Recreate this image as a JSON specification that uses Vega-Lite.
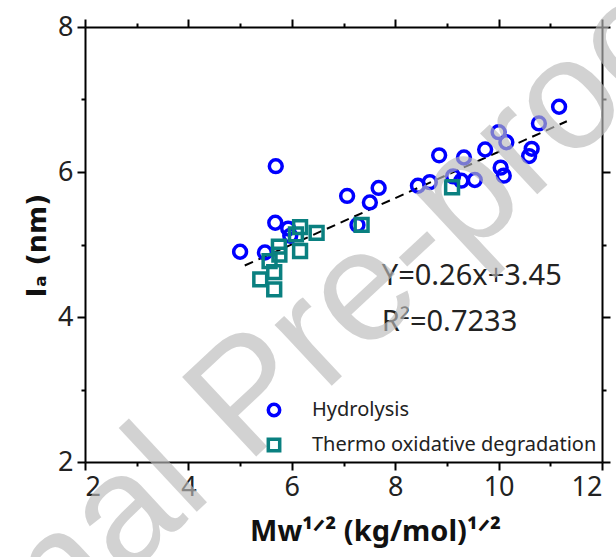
{
  "$schema": "https://vega.github.io/schema/vega-lite/v6.json",
  "autosize": {"type": "none"},
  "padding": {"left": 85, "top": 27, "right": 14, "bottom": 95},
  "width": 517,
  "height": 435,
  "background": "white",
  "config": {
    "view": {"stroke": null},
    "font": "Noto Sans",
    "axis": {
      "grid": false,
      "domainColor": "black",
      "domainWidth": 2,
      "tickColor": "black",
      "tickWidth": 2,
      "labelFont": "Noto Sans",
      "labelFontSize": 27,
      "labelColor": "#222222",
      "titleFont": "Noto Sans",
      "titleFontSize": 29,
      "titleFontWeight": "bold",
      "titleColor": "#111111"
    }
  },
  "datasets": {
    "pts": [
      {"x": 5.0, "y": 4.9, "series": "Hydrolysis"},
      {"x": 5.48, "y": 4.89, "series": "Hydrolysis"},
      {"x": 5.69, "y": 6.08, "series": "Hydrolysis"},
      {"x": 5.68, "y": 5.3, "series": "Hydrolysis"},
      {"x": 5.93, "y": 5.22, "series": "Hydrolysis"},
      {"x": 5.97, "y": 5.12, "series": "Hydrolysis"},
      {"x": 7.07, "y": 5.67, "series": "Hydrolysis"},
      {"x": 7.27, "y": 5.27, "series": "Hydrolysis"},
      {"x": 7.51, "y": 5.58, "series": "Hydrolysis"},
      {"x": 7.68, "y": 5.78, "series": "Hydrolysis"},
      {"x": 8.44, "y": 5.81, "series": "Hydrolysis"},
      {"x": 8.67, "y": 5.86, "series": "Hydrolysis"},
      {"x": 8.85, "y": 6.23, "series": "Hydrolysis"},
      {"x": 9.12, "y": 5.94, "series": "Hydrolysis"},
      {"x": 9.28, "y": 5.88, "series": "Hydrolysis"},
      {"x": 9.33, "y": 6.2, "series": "Hydrolysis"},
      {"x": 9.54, "y": 5.89, "series": "Hydrolysis"},
      {"x": 9.74, "y": 6.31, "series": "Hydrolysis"},
      {"x": 10.0, "y": 6.55, "series": "Hydrolysis"},
      {"x": 10.15, "y": 6.41, "series": "Hydrolysis"},
      {"x": 10.04, "y": 6.06, "series": "Hydrolysis"},
      {"x": 10.1, "y": 5.95, "series": "Hydrolysis"},
      {"x": 10.59, "y": 6.22, "series": "Hydrolysis"},
      {"x": 10.64, "y": 6.32, "series": "Hydrolysis"},
      {"x": 10.78, "y": 6.67, "series": "Hydrolysis"},
      {"x": 11.17, "y": 6.9, "series": "Hydrolysis"},
      {"x": 5.39, "y": 4.52, "series": "Thermo oxidative degradation"},
      {"x": 5.66, "y": 4.38, "series": "Thermo oxidative degradation"},
      {"x": 5.66, "y": 4.62, "series": "Thermo oxidative degradation"},
      {"x": 5.57, "y": 4.77, "series": "Thermo oxidative degradation"},
      {"x": 5.75, "y": 4.97, "series": "Thermo oxidative degradation"},
      {"x": 5.76, "y": 4.86, "series": "Thermo oxidative degradation"},
      {"x": 6.08, "y": 5.14, "series": "Thermo oxidative degradation"},
      {"x": 6.16, "y": 5.24, "series": "Thermo oxidative degradation"},
      {"x": 6.16, "y": 4.91, "series": "Thermo oxidative degradation"},
      {"x": 6.48, "y": 5.16, "series": "Thermo oxidative degradation"},
      {"x": 7.35, "y": 5.27, "series": "Thermo oxidative degradation"},
      {"x": 9.1, "y": 5.79, "series": "Thermo oxidative degradation"}
    ],
    "fit": [
      {"x": 5.09, "y": 4.71},
      {"x": 11.32, "y": 6.7}
    ],
    "notes": [
      {"x": 7.74, "y": 4.44, "label": "Y=0.26x+3.45"},
      {"x": 7.74, "y": 3.81, "label": "R²=0.7233"}
    ],
    "mark": [
      {"x": 5.81, "y": 2.41, "label": "Journal Pre-proof"}
    ]
  },
  "resolve": {"axis": {"x": "independent", "y": "independent"}},
  "layer": [
    {
      "data": {"name": "fit"},
      "mark": {"type": "line", "color": "black", "strokeWidth": 2, "strokeDash": [9, 6]},
      "encoding": {
        "x": {
          "field": "x", "type": "quantitative",
          "scale": {"domain": [2, 12], "nice": false, "zero": false},
          "axis": {
            "orient": "bottom",
            "values": [2, 3, 4, 5, 6, 7, 8, 9, 10, 11, 12],
            "labelExpr": "datum.value % 2 === 0 ? datum.label : ''",
            "tickSize": {"condition": {"test": "datum.value % 2 !== 0", "value": 4}, "value": 8},
            "labelPadding": 4,
            "title": "Mw¹ᐟ² (kg/mol)¹ᐟ²",
            "titleX": 290,
            "titleY": 78,
            "titleBaseline": "alphabetic",
            "titleAnchor": "middle",
            "titleAlign": "center"
          }
        },
        "y": {
          "field": "y", "type": "quantitative",
          "scale": {"domain": [2, 8], "nice": false, "zero": false},
          "axis": {
            "orient": "left",
            "values": [2, 3, 4, 5, 6, 7, 8],
            "labelExpr": "datum.value % 2 === 0 ? datum.label : ''",
            "tickSize": {"condition": {"test": "datum.value % 2 !== 0", "value": 4}, "value": 8},
            "labelPadding": 4,
            "title": "Iₐ (nm)",
            "titleFont": "DejaVu Sans",
            "titleFontSize": 27,
            "titleAngle": -90,
            "titleX": -40,
            "titleY": 218,
            "titleAlign": "center",
            "titleBaseline": "alphabetic"
          }
        }
      }
    },
    {
      "data": {"name": "pts"},
      "mark": {"type": "point", "filled": false, "strokeWidth": 3.5, "size": 165, "opacity": 1},
      "encoding": {
        "x": {"field": "x", "type": "quantitative", "axis": null},
        "y": {"field": "y", "type": "quantitative", "axis": null},
        "color": {
          "field": "series", "type": "nominal",
          "scale": {"domain": ["Hydrolysis", "Thermo oxidative degradation"], "range": ["#0000ff", "#0a8080"]},
          "legend": {
            "orient": "none",
            "legendX": 179,
            "legendY": 373,
            "title": null,
            "padding": 0,
            "labelFont": "Noto Sans",
            "labelFontSize": 20,
            "labelColor": "#222222",
            "labelOffset": 28,
            "labelLimit": 400,
            "symbolSize": 130,
            "symbolStrokeWidth": 3.5,
            "rowPadding": 9,
            "symbolFillColor": "white"
          }
        },
        "shape": {
          "field": "series", "type": "nominal",
          "scale": {"domain": ["Hydrolysis", "Thermo oxidative degradation"], "range": ["circle", "square"]},
          "legend": {
            "orient": "none",
            "legendX": 179,
            "legendY": 373,
            "title": null
          }
        }
      }
    },
    {
      "data": {"name": "notes"},
      "mark": {"type": "text", "align": "left", "baseline": "alphabetic", "fontSize": 29, "font": "Noto Sans", "color": "#222222"},
      "encoding": {
        "x": {
          "field": "x", "type": "quantitative",
          "axis": {
            "orient": "top",
            "values": [2, 3, 4, 5, 6, 7, 8, 9, 10, 11, 12],
            "labels": false,
            "title": null,
            "tickSize": {"condition": {"test": "datum.value % 2 !== 0", "value": 4}, "value": 8}
          }
        },
        "y": {
          "field": "y", "type": "quantitative",
          "axis": {
            "orient": "right",
            "values": [2, 3, 4, 5, 6, 7, 8],
            "labels": false,
            "title": null,
            "tickSize": {"condition": {"test": "datum.value % 2 !== 0", "value": 4}, "value": 8}
          }
        },
        "text": {"field": "label", "type": "nominal"}
      }
    },
    {
      "data": {"name": "mark"},
      "mark": {"type": "text", "align": "center", "baseline": "alphabetic", "fontSize": 158, "font": "Liberation Sans", "color": "#bbbbbb", "opacity": 0.65, "angle": -43},
      "encoding": {
        "x": {"field": "x", "type": "quantitative", "axis": null},
        "y": {"field": "y", "type": "quantitative", "axis": null},
        "text": {"field": "label", "type": "nominal"}
      }
    }
  ]
}
